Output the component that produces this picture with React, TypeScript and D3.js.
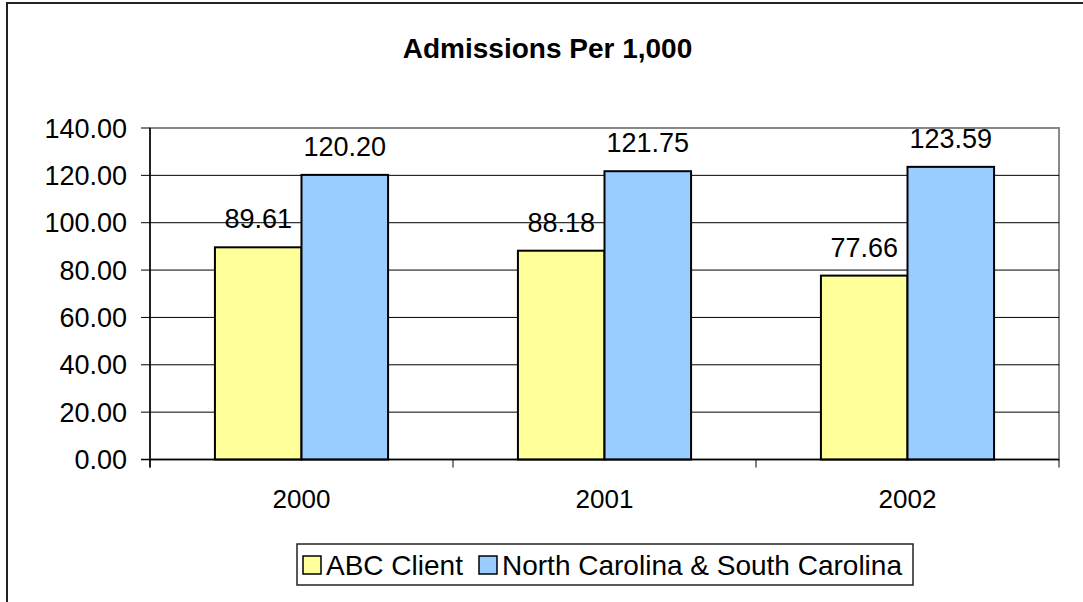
import * as d3 from "d3";

const years = ["2000", "2001", "2002"];
const seriesNames = ["ABC Client", "North Carolina & South Carolina"];
const abcClient = [89.61, 88.18, 77.66];
const carolinas = [120.2, 121.75, 123.59];
const yTicks = [0, 20, 40, 60, 80, 100, 120, 140];

const colors = ["#FFFF99", "#99CCFF"];
const font = "'Liberation Sans', Arial, sans-serif";

export default function App() {
  const width = 1083;
  const height = 602;
  const plot = { left: 150, right: 1059, top: 128, bottom: 459.5 };

  const x = d3.scaleBand().domain(years).range([plot.left, plot.right]);
  // Excel style: gap width 150% -> band = 3.5 bar widths
  const xInner = d3
    .scaleBand()
    .domain(seriesNames)
    .range([0, x.bandwidth()])
    .paddingInner(0)
    .paddingOuter(0.75);
  const y = d3.scaleLinear().domain([0, 140]).range([plot.bottom, plot.top]);

  const series = [abcClient, carolinas];
  const boundaries = [...years.map((d) => x(d) as number), plot.right];

  // legend entries (marker x, text x)
  const legendItems = [
    { name: seriesNames[0], color: colors[0], mx: 303, tx: 326 },
    { name: seriesNames[1], color: colors[1], mx: 479, tx: 502 },
  ];

  return (
    <svg
      width={width}
      height={height}
      style={{ position: "absolute", left: 0, top: 0, background: "#fff" }}
      fontFamily={font}
    >
      <rect x={0} y={0} width={width} height={height} fill="#fff" />
      {/* outer chart border */}
      <rect x={7} y={3} width={width + 20} height={height + 20} fill="none" stroke="#222" strokeWidth={2} />

      <text x={547.5} y={58} textAnchor="middle" fontSize={28} fontWeight="bold">
        Admissions Per 1,000
      </text>

      {/* plot area */}
      <rect
        x={plot.left}
        y={plot.top}
        width={plot.right - plot.left}
        height={plot.bottom - plot.top}
        fill="#fff"
        stroke="#888"
        strokeWidth={2}
      />

      {/* gridlines */}
      {yTicks.slice(1, -1).map((t) => (
        <line key={t} x1={plot.left} x2={plot.right} y1={y(t)} y2={y(t)} stroke="#000" strokeWidth={1} />
      ))}

      {/* bars */}
      {series.map((vals, si) =>
        years.map((yr, i) => {
          const bx = (x(yr) as number) + (xInner(seriesNames[si]) as number);
          return (
            <rect
              key={`${si}-${yr}`}
              x={bx}
              y={y(vals[i])}
              width={xInner.bandwidth()}
              height={y(0) - y(vals[i])}
              fill={colors[si]}
              stroke="#000"
              strokeWidth={2}
            />
          );
        })
      )}

      {/* value labels */}
      {series.map((vals, si) =>
        years.map((yr, i) => {
          const bx = (x(yr) as number) + (xInner(seriesNames[si]) as number) + xInner.bandwidth() / 2;
          return (
            <text key={`l${si}-${yr}`} x={bx} y={y(vals[i]) - 19} textAnchor="middle" fontSize={27}>
              {vals[i].toFixed(2)}
            </text>
          );
        })
      )}

      {/* axes */}
      <line x1={plot.left} x2={plot.left} y1={plot.top} y2={plot.bottom + 8} stroke="#000" strokeWidth={1.5} />
      <line x1={plot.left - 9} x2={plot.right} y1={plot.bottom} y2={plot.bottom} stroke="#000" strokeWidth={1.5} />
      {yTicks.map((t) => (
        <g key={`yt${t}`}>
          <line x1={plot.left - 9} x2={plot.left} y1={y(t)} y2={y(t)} stroke="#000" strokeWidth={1} />
          <text x={127} y={y(t) + 9.5} textAnchor="end" fontSize={27}>
            {t.toFixed(2)}
          </text>
        </g>
      ))}
      {boundaries.map((b, i) => (
        <line key={`xt${i}`} x1={b} x2={b} y1={plot.bottom} y2={plot.bottom + 8} stroke="#000" strokeWidth={1} />
      ))}
      {years.map((yr) => (
        <text key={`xl${yr}`} x={(x(yr) as number) + x.bandwidth() / 2} y={508} textAnchor="middle" fontSize={26}>
          {yr}
        </text>
      ))}

      {/* legend */}
      <rect x={297} y={544} width={616} height={41} fill="#fff" stroke="#222" strokeWidth={1.5} />
      {legendItems.map((it) => (
        <g key={it.name}>
          <rect x={it.mx} y={556} width={18} height={18} fill={it.color} stroke="#000" strokeWidth={1.5} />
          <text x={it.tx} y={575} fontSize={28}>
            {it.name}
          </text>
        </g>
      ))}
    </svg>
  );
}
